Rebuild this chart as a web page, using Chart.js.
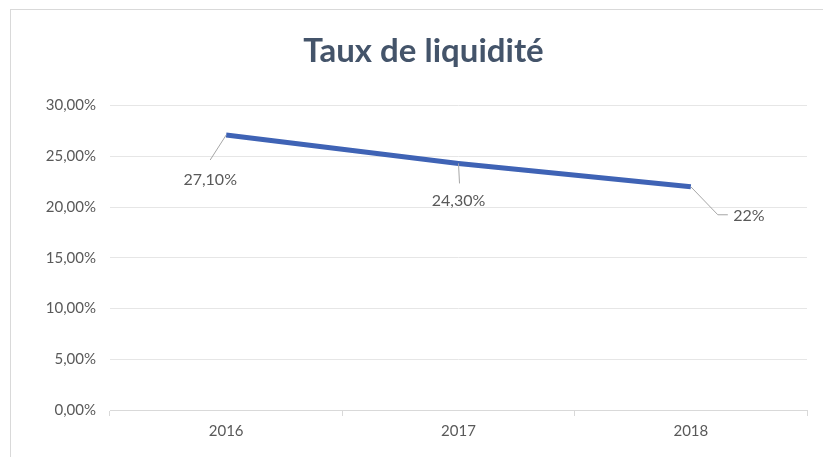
<!DOCTYPE html>
<html>
<head>
<meta charset="utf-8">
<script src="https://cdn.jsdelivr.net/npm/chart.js@4.4.1/dist/chart.umd.min.js"></script>
<style>
  html, body { margin: 0; padding: 0; background: #fff; }
  #frame { position: absolute; left: 10px; top: 9px; right: -2px; bottom: -2px; border: 1px solid #d9d9d9; }
  #wrap { position: absolute; left: 0; top: 0; width: 823px; height: 457px; }
</style>
</head>
<body>
<div id="frame"></div>
<div id="wrap"><canvas id="lineChart"></canvas></div>
<script>
// data
var years = ['2016', '2017', '2018'];
var liquidite = [27.1, 24.3, 22];
var valueLabels = ['27,10%', '24,30%', '22%'];

// where each label sits relative to its point, and leader line bends
var labelOffsets = [
    { dx: -16, dy: 45, line: [[-16, 25]] },
    { dx: 0, dy: 37, line: [[1, 20]] },
    { dx: 58, dy: 29, line: [[27, 28], [37, 28]] }
];

var greyText = '#595959';

var dataLabelPlugin = {
    id: 'dataLabels',
    afterDatasetsDraw: function(chart) {
        var ctx = chart.ctx;
        var meta = chart.getDatasetMeta(0);
        ctx.save();
        ctx.font = '16px Lato';
        ctx.fillStyle = greyText;
        ctx.textAlign = 'center';
        ctx.textBaseline = 'middle';
        meta.data.forEach(function(pt, i) {
            var o = labelOffsets[i];
            ctx.strokeStyle = '#a6a6a6';
            ctx.lineWidth = 1;
            ctx.beginPath();
            ctx.moveTo(pt.x, pt.y);
            o.line.forEach(function(p) { ctx.lineTo(pt.x + p[0], pt.y + p[1]); });
            ctx.stroke();
            ctx.fillText(valueLabels[i], pt.x + o.dx, pt.y + o.dy);
        });
        ctx.restore();
    }
};

var ctx = document.getElementById('lineChart').getContext('2d');
var myChart = new Chart(ctx, {
    type: 'line',
    data: {
        labels: years,
        datasets: [{
            label: 'Taux de liquidité',
            data: liquidite,
            borderColor: '#3f63b5',
            borderWidth: 5,
            pointRadius: 0,
            tension: 0,
            fill: false
        }]
    },
    options: {
        responsive: true,
        maintainAspectRatio: false,
        animation: false,
        layout: { padding: { left: 40, right: 16, top: 0, bottom: 0 } },
        plugins: {
            legend: { display: false },
            tooltip: { enabled: false },
            title: {
                display: true,
                text: 'Taux de liquidité',
                color: '#44546a',
                font: { family: 'Lato', size: 33, weight: 'bold', lineHeight: 1.2 },
                padding: { top: 32, bottom: 34 }
            }
        },
        scales: {
            x: {
                offset: true,
                afterFit: function(s) { s.height = 47; },
                grid: { offset: true, drawOnChartArea: false, tickLength: 6, color: '#d9d9d9' },
                border: { color: '#d9d9d9' },
                ticks: { color: greyText, font: { family: 'Lato', size: 15 }, padding: 6 }
            },
            y: {
                min: 0,
                max: 30,
                afterFit: function(s) { s.width = 70; },
                ticks: {
                    stepSize: 5,
                    color: greyText,
                    font: { family: 'Lato', size: 15 },
                    padding: 14,
                    callback: function(v) { return v.toFixed(2).replace('.', ',') + '%'; }
                },
                grid: { color: '#e6e6e6', drawTicks: false },
                border: { display: false }
            }
        }
    },
    plugins: [dataLabelPlugin]
});
</script>
</body>
</html>
